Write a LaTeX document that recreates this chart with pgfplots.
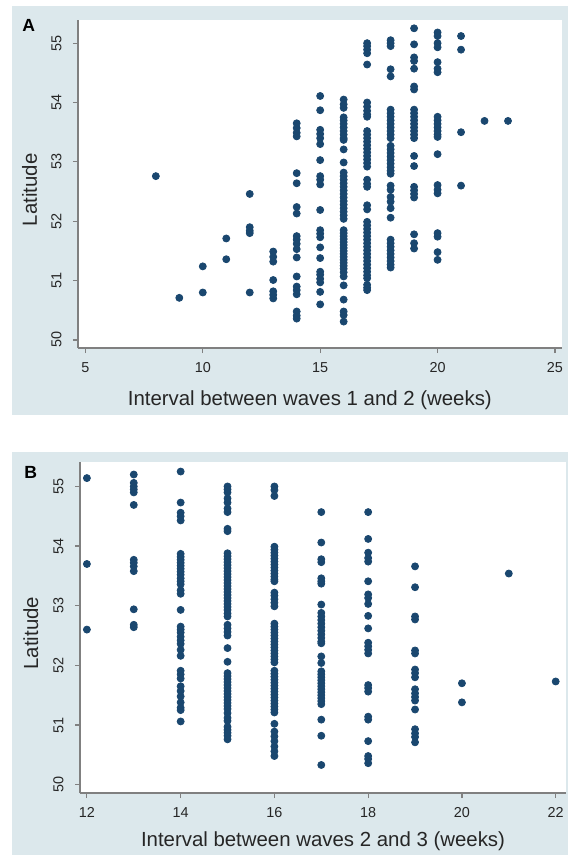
\documentclass[border=0pt]{standalone}
\usepackage{pgfplots}
\usepackage{pgfplotstable}
\pgfplotsset{compat=1.18}
\usepackage{fontspec}
\setmainfont{Liberation Sans}
\definecolor{panelbg}{HTML}{DCE8EC}
\definecolor{stnavy}{RGB}{26,71,111}
\definecolor{axgray}{HTML}{808080}
\definecolor{txt}{HTML}{262626}

\pgfplotstableread{
x y
8 52.76
9 50.71
10 51.24
10 50.80
11 51.71
11 51.36
12 52.46
12 51.90
12 51.84
12 51.80
12 50.80
13 51.49
13 51.40
13 51.32
13 51.01
13 50.82
13 50.76
13 50.70
14 53.65
14 53.57
14 53.49
14 53.43
14 52.81
14 52.64
14 52.24
14 52.13
14 51.75
14 51.69
14 51.62
14 51.53
14 51.39
14 51.07
14 50.90
14 50.84
14 50.77
14 50.48
14 50.41
14 50.36
15 54.11
15 53.87
15 53.54
15 53.47
15 53.40
15 53.30
15 53.03
15 52.76
15 52.70
15 52.62
15 52.19
15 51.85
15 51.79
15 51.73
15 51.56
15 51.38
15 51.15
15 51.10
15 51.03
15 50.97
15 50.81
15 50.60
16 54.05
16 53.97
16 53.91
16 53.75
16 53.70
16 53.64
16 53.58
16 53.52
16 53.46
16 53.40
16 53.37
16 53.21
16 52.99
16 52.82
16 52.76
16 52.70
16 52.64
16 52.58
16 52.52
16 52.46
16 52.40
16 52.34
16 52.28
16 52.22
16 52.16
16 52.10
16 52.04
16 51.85
16 51.80
16 51.75
16 51.70
16 51.65
16 51.60
16 51.55
16 51.50
16 51.45
16 51.40
16 51.35
16 51.30
16 51.25
16 51.20
16 51.14
16 51.07
16 50.92
16 50.68
16 50.48
16 50.42
16 50.31
17 55.00
17 54.95
17 54.89
17 54.83
17 54.64
17 54.00
17 53.93
17 53.86
17 53.80
17 53.76
17 53.52
17 53.46
17 53.40
17 53.34
17 53.28
17 53.22
17 53.16
17 53.10
17 53.04
17 52.98
17 52.92
17 52.70
17 52.63
17 52.58
17 52.27
17 52.20
17 51.99
17 51.93
17 51.87
17 51.81
17 51.75
17 51.69
17 51.63
17 51.57
17 51.51
17 51.45
17 51.39
17 51.33
17 51.27
17 51.21
17 51.15
17 51.09
17 51.04
17 50.93
17 50.88
17 50.84
18 55.05
18 55.00
18 54.95
18 54.56
18 54.44
18 53.88
18 53.82
18 53.76
18 53.70
18 53.64
18 53.58
18 53.52
18 53.46
18 53.40
18 53.27
18 53.21
18 53.15
18 53.09
18 53.03
18 52.97
18 52.91
18 52.85
18 52.80
18 52.60
18 52.53
18 52.41
18 52.33
18 52.22
18 52.06
18 51.69
18 51.63
18 51.57
18 51.51
18 51.45
18 51.39
18 51.33
18 51.27
18 51.22
19 55.25
19 54.98
19 54.76
19 54.70
19 54.57
19 54.27
19 54.22
19 53.88
19 53.82
19 53.76
19 53.70
19 53.64
19 53.58
19 53.52
19 53.46
19 53.40
19 53.10
19 52.93
19 52.58
19 52.52
19 52.46
19 52.40
19 51.78
19 51.63
19 51.54
20 55.18
20 55.12
20 55.00
20 54.93
20 54.68
20 54.57
20 54.51
20 53.76
20 53.70
20 53.64
20 53.58
20 53.52
20 53.46
20 53.42
20 53.13
20 52.61
20 52.53
20 52.47
20 51.80
20 51.74
20 51.48
20 51.35
21 55.12
21 54.89
21 53.50
21 52.60
22 53.69
23 53.69
}\dataA

\pgfplotstableread{
x y
12 55.14
12 53.70
12 52.60
13 55.20
13 55.06
13 55.00
13 54.95
13 54.90
13 54.69
13 53.77
13 53.72
13 53.66
13 53.58
13 52.94
13 52.68
13 52.64
14 55.25
14 54.73
14 54.56
14 54.50
14 54.43
14 53.87
14 53.82
14 53.77
14 53.72
14 53.67
14 53.62
14 53.57
14 53.52
14 53.46
14 53.41
14 53.36
14 53.26
14 53.20
14 52.93
14 52.65
14 52.60
14 52.55
14 52.48
14 52.42
14 52.36
14 52.26
14 52.16
14 51.91
14 51.85
14 51.78
14 51.65
14 51.57
14 51.48
14 51.38
14 51.29
14 51.25
14 51.06
15 55.00
15 54.95
15 54.90
15 54.80
15 54.73
15 54.63
15 54.57
15 54.29
15 54.25
15 53.88
15 53.83
15 53.78
15 53.73
15 53.68
15 53.63
15 53.58
15 53.53
15 53.48
15 53.43
15 53.38
15 53.33
15 53.28
15 53.23
15 53.18
15 53.13
15 53.08
15 53.03
15 52.98
15 52.93
15 52.87
15 52.82
15 52.68
15 52.62
15 52.56
15 52.50
15 52.29
15 52.06
15 51.87
15 51.82
15 51.77
15 51.72
15 51.67
15 51.62
15 51.57
15 51.52
15 51.47
15 51.42
15 51.37
15 51.32
15 51.27
15 51.20
15 51.12
15 51.07
15 50.97
15 50.92
15 50.87
15 50.82
15 50.76
16 55.00
16 54.94
16 54.84
16 53.99
16 53.94
16 53.89
16 53.84
16 53.79
16 53.74
16 53.69
16 53.64
16 53.59
16 53.54
16 53.49
16 53.44
16 53.41
16 53.22
16 53.17
16 53.11
16 53.05
16 52.99
16 52.70
16 52.65
16 52.60
16 52.55
16 52.50
16 52.45
16 52.40
16 52.35
16 52.30
16 52.25
16 52.20
16 52.15
16 52.10
16 52.05
16 51.91
16 51.86
16 51.81
16 51.76
16 51.71
16 51.66
16 51.61
16 51.56
16 51.51
16 51.46
16 51.41
16 51.36
16 51.31
16 51.26
16 51.21
16 51.02
16 50.89
16 50.81
16 50.73
16 50.64
16 50.56
16 50.48
17 54.57
17 54.06
17 53.78
17 53.73
17 53.46
17 53.41
17 53.37
17 53.02
17 52.88
17 52.82
17 52.76
17 52.70
17 52.64
17 52.58
17 52.52
17 52.46
17 52.40
17 52.37
17 52.15
17 52.04
17 51.90
17 51.85
17 51.80
17 51.75
17 51.70
17 51.65
17 51.60
17 51.55
17 51.50
17 51.45
17 51.40
17 51.35
17 51.09
17 50.82
17 50.33
18 54.57
18 54.12
18 53.89
18 53.80
18 53.74
18 53.41
18 53.19
18 53.13
18 53.03
18 52.83
18 52.62
18 52.38
18 52.32
18 52.26
18 52.20
18 51.67
18 51.62
18 51.56
18 51.14
18 51.09
18 50.73
18 50.48
18 50.43
18 50.36
19 53.66
19 53.31
19 52.82
19 52.77
19 52.25
19 52.20
19 51.93
19 51.87
19 51.80
19 51.60
19 51.53
19 51.47
19 51.41
19 51.26
19 50.93
19 50.86
19 50.80
19 50.71
20 51.70
20 51.38
21 53.54
22 51.73
}\dataB

\pgfplotsset{
  statapanel/.style={
    scale only axis,
    axis x line*=bottom,
    axis y line*=left,
    axis line style={-, draw=axgray, line width=0.6pt},
    axis background/.style={fill=white},
    tick align=outside,
    major tick length=2.5pt,
    tick style={draw=axgray, line width=0.6pt},
    minor tick num=0,
    /pgf/number format/assume math mode=true,
    ticklabel style={font=\fontsize{7.2}{8}\selectfont, text=txt, inner sep=0pt},
    xticklabel style={anchor=north},
    yticklabel style={rotate=90, anchor=south},
    xticklabel shift=4.5pt,
    yticklabel shift=5.5pt,
    label style={font=\fontsize{10.2}{12}\selectfont, text=txt, inner sep=0pt},
    clip=false,
  },
  dots/.style={only marks, mark=*, mark size=1.75pt, draw=stnavy, fill=stnavy, mark options={draw=stnavy, fill=stnavy}},
}

\begin{document}
\begin{tikzpicture}
\path[use as bounding box] (0,0) rectangle (287.5pt,-427.5pt);
\fill[white] (0,0) rectangle (287.5pt,-427.5pt);
\fill[panelbg] (6pt,-3pt) rectangle (284pt,-207.5pt);
\fill[panelbg] (6pt,-226pt) rectangle (284pt,-427.5pt);

\begin{axis}[statapanel,
  at={(39pt,-174pt)}, anchor=south west,
  width=242pt, height=164pt,
  xmin=4.685, xmax=25.3, ymin=49.865, ymax=55.39,
  xtick={5,10,15,20,25}, ytick={50,51,52,53,54,55},
  xlabel={Interval between waves 1 and 2 (weeks)},
  ylabel={Latitude},
  xlabel style={at={(axis description cs:0.479,-0.158)}, anchor=center},
  ylabel style={at={(axis description cs:-0.100,0.482)}, anchor=center},
]
\addplot[dots] table[x=x, y=y] {\dataA};
\end{axis}

\begin{axis}[statapanel,
  at={(40pt,-396.5pt)}, anchor=south west,
  width=243pt, height=165.5pt,
  xmin=11.853, xmax=22.22, ymin=49.86, ymax=55.41,
  xtick={12,14,16,18,20,22}, ytick={50,51,52,53,54,55},
  xlabel={Interval between waves 2 and 3 (weeks)},
  ylabel={Latitude},
  xlabel style={at={(axis description cs:0.500,-0.147)}, anchor=center},
  ylabel style={at={(axis description cs:-0.101,0.483)}, anchor=center},
]
\addplot[dots] table[x=x, y=y] {\dataB};
\end{axis}

\node[anchor=base west, inner sep=0pt, font=\bfseries\fontsize{8.8}{10}\selectfont, text=black] at (11pt,-16pt) {A};
\node[anchor=base west, inner sep=0pt, font=\bfseries\fontsize{8.8}{10}\selectfont, text=black] at (12pt,-239pt) {B};
\end{tikzpicture}
\end{document}
